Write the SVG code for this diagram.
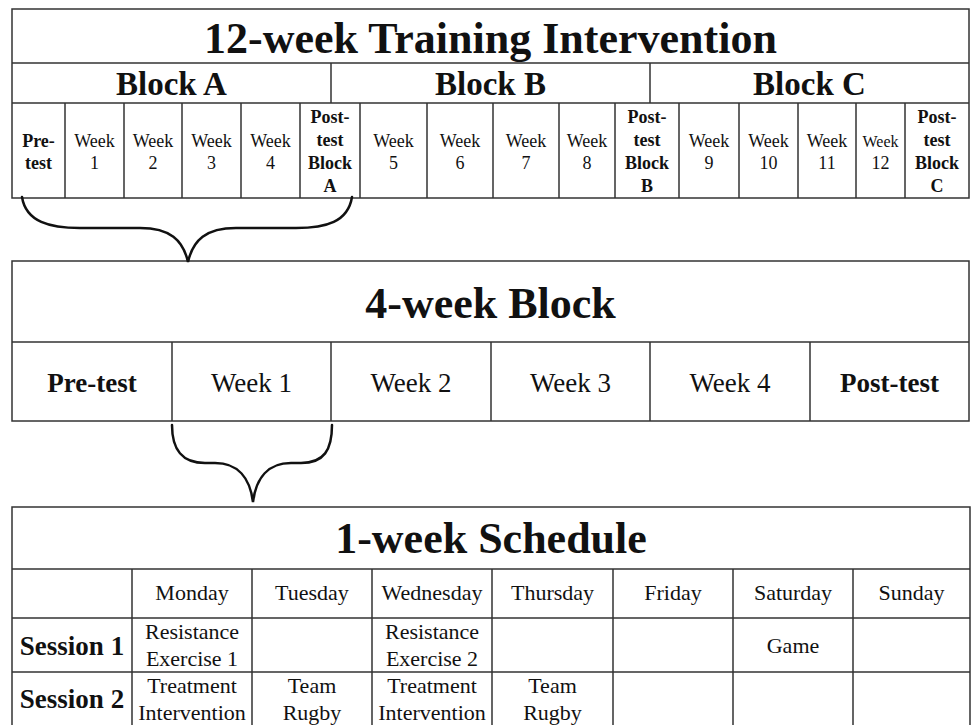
<svg xmlns="http://www.w3.org/2000/svg" width="972" height="725" viewBox="0 0 972 725">
<style>
.ln{stroke:#333;stroke-width:1.5;fill:none}
.br{stroke:#111;stroke-width:2.5;fill:none;stroke-linecap:round}
text{font-family:"Liberation Serif","Times New Roman",serif;fill:#111;text-anchor:middle}
.t{font-size:44px;font-weight:bold}
.blk{font-size:33px;font-weight:bold}
.s{font-size:18px}
.sb{font-size:18px;font-weight:bold}
.m{font-size:27px}
.mb{font-size:27px;font-weight:bold}
.d{font-size:22px}
</style>
<rect width="972" height="725" fill="#fff"/>
<g id="table-12week">
<rect class="ln" x="12" y="9" width="957" height="189"/>
<path class="ln" d="M12,63H969M12,103H969M331,63V103M650,63V103M65,103V198M124,103V198M182,103V198M241,103V198M300,103V198M360,103V198M427,103V198M493,103V198M559,103V198M615,103V198M679,103V198M739,103V198M798,103V198M856,103V198M905,103V198"/>
<text class="t" x="490.5" y="53">12-week Training Intervention</text>
<text class="blk" x="171.5" y="95">Block A</text>
<text class="blk" x="490.5" y="95">Block B</text>
<text class="blk" x="809.5" y="95">Block C</text>
<text class="sb" x="38.5" y="147">Pre-</text><text class="sb" x="38.5" y="169">test</text>
<text class="s" x="94.5" y="147">Week</text><text class="s" x="94.5" y="169">1</text>
<text class="s" x="153" y="147">Week</text><text class="s" x="153" y="169">2</text>
<text class="s" x="211.5" y="147">Week</text><text class="s" x="211.5" y="169">3</text>
<text class="s" x="270.5" y="147">Week</text><text class="s" x="270.5" y="169">4</text>
<text class="sb" x="330" y="123">Post-</text><text class="sb" x="330" y="146">test</text><text class="sb" x="330" y="169">Block</text><text class="sb" x="330" y="192">A</text>
<text class="s" x="393.5" y="147">Week</text><text class="s" x="393.5" y="169">5</text>
<text class="s" x="460" y="147">Week</text><text class="s" x="460" y="169">6</text>
<text class="s" x="526" y="147">Week</text><text class="s" x="526" y="169">7</text>
<text class="s" x="587" y="147">Week</text><text class="s" x="587" y="169">8</text>
<text class="sb" x="647" y="123">Post-</text><text class="sb" x="647" y="146">test</text><text class="sb" x="647" y="169">Block</text><text class="sb" x="647" y="192">B</text>
<text class="s" x="709" y="147">Week</text><text class="s" x="709" y="169">9</text>
<text class="s" x="768.5" y="147">Week</text><text class="s" x="768.5" y="169">10</text>
<text class="s" x="827" y="147">Week</text><text class="s" x="827" y="169">11</text>
<text class="s" x="880.5" y="147" style="font-size:16px">Week</text><text class="s" x="880.5" y="169">12</text>
<text class="sb" x="937" y="123">Post-</text><text class="sb" x="937" y="146">test</text><text class="sb" x="937" y="169">Block</text><text class="sb" x="937" y="192">C</text>
</g>
<g id="table-4week">
<rect class="ln" x="12" y="261" width="957" height="160"/>
<path class="ln" d="M12,342H969M172,342V421M331,342V421M491,342V421M650,342V421M810,342V421"/>
<text class="t" x="490.5" y="318">4-week Block</text>
<text class="mb" x="92" y="392">Pre-test</text>
<text class="m" x="251.5" y="392">Week 1</text>
<text class="m" x="411" y="392">Week 2</text>
<text class="m" x="570.5" y="392">Week 3</text>
<text class="m" x="730" y="392">Week 4</text>
<text class="mb" x="889.5" y="392">Post-test</text>
</g>
<g id="table-1week">
<path class="ln" d="M12,726V507H970V726M12,569H970M12,618H970M12,672H970M132,569V726M252,569V726M372,569V726M492,569V726M613,569V726M733,569V726M853,569V726"/>
<text class="t" x="491" y="553">1-week Schedule</text>
<text class="d" x="192" y="600">Monday</text>
<text class="d" x="312" y="600">Tuesday</text>
<text class="d" x="432" y="600">Wednesday</text>
<text class="d" x="552.5" y="600">Thursday</text>
<text class="d" x="673" y="600">Friday</text>
<text class="d" x="793" y="600">Saturday</text>
<text class="d" x="911.5" y="600">Sunday</text>
<text class="mb" x="72" y="655">Session 1</text>
<text class="d" x="192" y="639">Resistance</text><text class="d" x="192" y="666">Exercise 1</text>
<text class="d" x="432" y="639">Resistance</text><text class="d" x="432" y="666">Exercise 2</text>
<text class="d" x="793" y="653">Game</text>
<text class="mb" x="72" y="708">Session 2</text>
<text class="d" x="192" y="693">Treatment</text><text class="d" x="192" y="720">Intervention</text>
<text class="d" x="312" y="693">Team</text><text class="d" x="312" y="720">Rugby</text>
<text class="d" x="432" y="693">Treatment</text><text class="d" x="432" y="720">Intervention</text>
<text class="d" x="552.5" y="693">Team</text><text class="d" x="552.5" y="720">Rugby</text>
</g>
<g id="connectors">
<path class="br" d="M22,197C26,222 50,228 80,228L140,228C170,228 183,240 188,262C193,240 206,228 236,228L296,228C326,228 348,222 352,197"/>
<path class="br" d="M172,425C172,450 182,463 205,463L215,463C238,463 250,478 253,502C256,478 268,463 291,463L301,463C324,463 332,450 332,425"/>
</g>
</svg>
